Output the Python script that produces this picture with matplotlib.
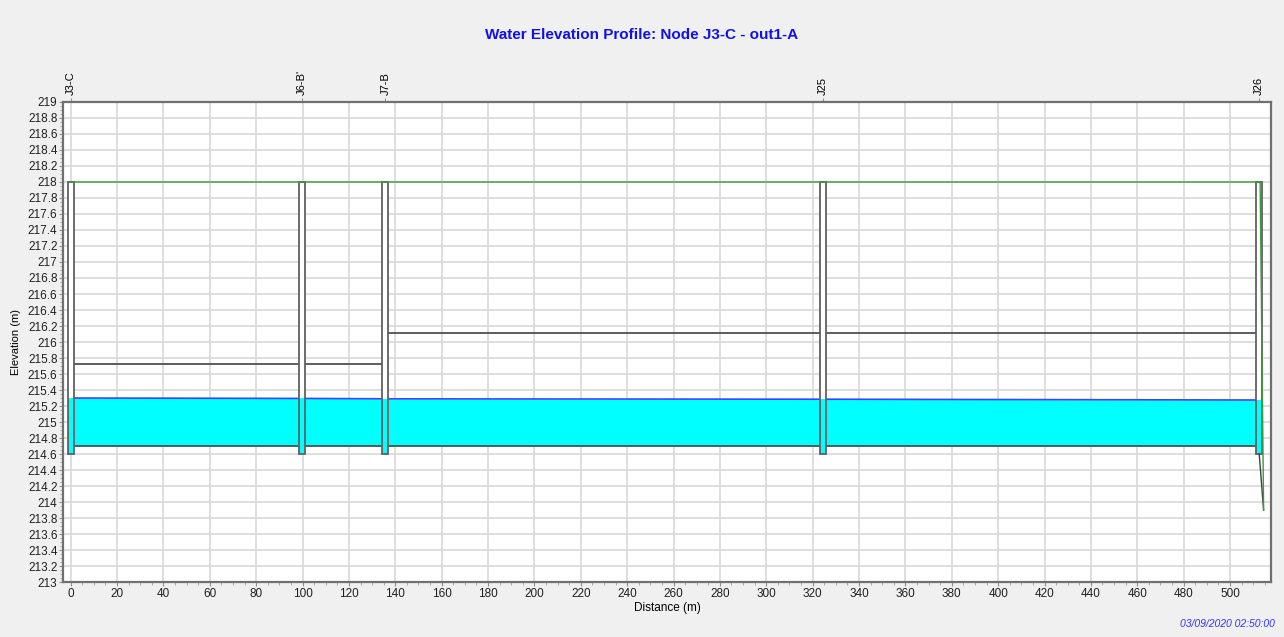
import numpy as np
import matplotlib
matplotlib.use("Agg")
import matplotlib.pyplot as plt
from matplotlib.patches import Rectangle

plt.rcParams['font.family'] = ['Liberation Sans', 'DejaVu Sans']

# nodes along the profile
node_names = ["J3-C", "J6-B'", "J7-B", "J25", "J26"]
node_x = [0.0, 99.7, 135.7, 324.4, 512.6]
node_invert = [214.6, 214.6, 214.6, 214.6, 214.6]
node_rim = [218.0, 218.0, 218.0, 218.0, 218.0]
node_head = [215.30, 215.295, 215.29, 215.285, 215.275]

# conduits between consecutive nodes
conduit_invert = [214.7, 214.7, 214.7, 214.7]
conduit_crown = [215.72, 215.72, 216.11, 216.11]

# outlet drop after last node
outlet_x = 514.5
outlet_elev = 213.9

node_w = 2.7

fig = plt.figure(figsize=(12.84, 6.37), dpi=100, facecolor='#f0f0f0')
ax = fig.add_axes([0.0491, 0.0863, 0.9408, 0.7536])
ax.set_facecolor('white')

# water in conduits
xs = np.array(node_x)
hs = np.array(node_head)
for i in range(len(node_x) - 1):
    x0 = node_x[i] + node_w / 2
    x1 = node_x[i + 1] - node_w / 2
    h0 = np.interp(x0, xs, hs)
    h1 = np.interp(x1, xs, hs)
    ax.fill_between([x0, x1], [conduit_invert[i]] * 2, [h0, h1],
                    color='#00ffff', lw=0, zorder=2)
    ax.plot([x0, x1], [h0, h1], color='#4040ff', lw=1.2, zorder=3)
    ax.plot([x0, x1], [conduit_invert[i]] * 2, color='#505050', lw=1.3, zorder=4)
    ax.plot([x0, x1], [conduit_crown[i]] * 2, color='#505050', lw=1.3, zorder=4)

# node boxes
for x, inv, rim, h in zip(node_x, node_invert, node_rim, node_head):
    ax.add_patch(Rectangle((x - node_w / 2, inv), node_w, h - inv,
                           facecolor='#00ffff', edgecolor='none', zorder=5))
    ax.add_patch(Rectangle((x - node_w / 2, h), node_w, rim - h,
                           facecolor='white', edgecolor='none', zorder=5))
    ax.add_patch(Rectangle((x - node_w / 2, inv), node_w, rim - inv,
                           facecolor='none', edgecolor='#606060', lw=1.3, zorder=6))

# ground line
ax.plot(node_x[:-1] + [node_x[-1] + 0.4, outlet_x],
        node_rim + [outlet_elev], color='#3a9a3a', lw=1.0, zorder=7)
ax.plot([node_x[-1], outlet_x], [node_invert[-1], outlet_elev],
        color='#404040', lw=1.0, zorder=6)

ax.set_xlim(-3.3, 517.7)
ax.set_ylim(213, 219)

ax.set_xticks(np.arange(0, 501, 20))
ax.set_xticks(np.arange(0, 516, 5), minor=True)
yt = np.round(np.arange(213, 219.01, 0.2), 1)
ax.set_yticks(yt)
ax.set_yticklabels([f"{v:g}" for v in yt])
ax.set_yticks(np.arange(213, 219.01, 0.05), minor=True)
ax.grid(True, which='major', color='#d8d8d8', lw=1.2)
ax.set_axisbelow(True)

ax.tick_params(axis='both', which='major', labelsize=8.5, length=3,
               color='#909090', labelcolor='#202020', pad=1)
ax.tick_params(axis='both', which='minor', length=2, color='#a0a0a0')

for s in ax.spines.values():
    s.set_color('#707070')
    s.set_linewidth(1.6)

ax.set_xlabel('Distance (m)', fontsize=8.5, labelpad=2)
ax.set_ylabel('Elevation (m)', fontsize=8, labelpad=5)

top = ax.secondary_xaxis('top')
top.set_xticks(node_x)
top.set_xticklabels(node_names, rotation=90, fontsize=8)
top.tick_params(length=3, color='#909090', pad=2)
top.spines['top'].set_visible(False)

fig.text(0.5, 0.945, 'Water Elevation Profile: Node J3-C - out1-A',
         ha='center', va='center', color='#1010ee', fontsize=11,
         fontweight='bold')
fig.text(0.993, 0.02, '03/09/2020 02:50:00', ha='right', va='center',
         color='#3333ff', fontsize=7.5, style='italic')

fig.savefig('out.png', dpi=100, facecolor=fig.get_facecolor())
